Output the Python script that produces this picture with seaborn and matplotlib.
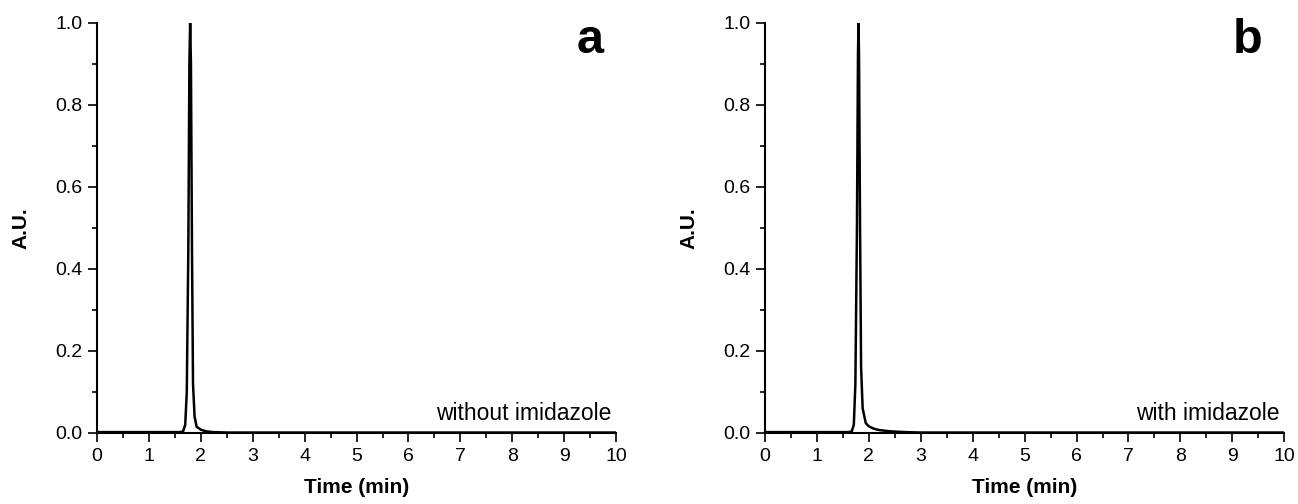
import numpy as np
import pandas as pd
import seaborn as sns
import matplotlib.pyplot as plt
from matplotlib.ticker import MultipleLocator

# chromatogram traces
time_a = [0, 1.0, 1.60, 1.66, 1.70, 1.73, 1.76, 1.78, 1.795, 1.81, 1.83, 1.85, 1.88,
          1.92, 2.0, 2.1, 2.23, 2.5, 3.0, 10]
signal_a = [0.002, 0.002, 0.002, 0.004, 0.02, 0.10, 0.45, 0.90, 1.0, 0.90, 0.45, 0.12, 0.04,
            0.015, 0.008, 0.004, 0.002, 0.001, 0.001, 0.001]

time_b = [0, 1.0, 1.60, 1.67, 1.71, 1.74, 1.77, 1.79, 1.80, 1.81, 1.83, 1.85, 1.88,
          1.94, 2.0, 2.1, 2.2, 2.4, 2.7, 3.0, 10]
signal_b = [0.002, 0.002, 0.002, 0.004, 0.02, 0.12, 0.50, 0.92, 1.0, 0.92, 0.50, 0.16, 0.06,
            0.024, 0.016, 0.010, 0.007, 0.004, 0.002, 0.001, 0.001]

panels = ['a', 'b']
panel_x = [0.95, 0.929]
notes = ['without imidazole', 'with imidazole']

sns.set_style('ticks')
plt.rcParams['font.family'] = ['Liberation Sans', 'DejaVu Sans']
plt.rcParams['text.color'] = 'black'
plt.rcParams['axes.labelcolor'] = 'black'

fig = plt.figure(figsize=(12.98, 5.04), dpi=100)
ax_a = fig.add_axes([0.0747, 0.141, 0.4, 0.814])
ax_b = fig.add_axes([0.5894, 0.141, 0.4, 0.814])

for ax, t, s, lab, px, note in zip([ax_a, ax_b], [time_a, time_b], [signal_a, signal_b],
                                   panels, panel_x, notes):
    df = pd.DataFrame({'t': t, 's': s})
    sns.lineplot(data=df, x='t', y='s', ax=ax, color='black', linewidth=1.8)
    ax.set_xlim(0, 10)
    ax.set_ylim(0, 1.0)
    ax.xaxis.set_major_locator(MultipleLocator(1))
    ax.xaxis.set_minor_locator(MultipleLocator(0.5))
    ax.yaxis.set_major_locator(MultipleLocator(0.2))
    ax.yaxis.set_minor_locator(MultipleLocator(0.1))
    ax.xaxis.set_major_formatter(plt.FuncFormatter(lambda v, p: '%d' % v))
    ax.yaxis.set_major_formatter(plt.FuncFormatter(lambda v, p: '%.1f' % v))
    ax.tick_params(which='major', length=6.5, width=1.2, labelsize=14, colors='black', pad=4)
    ax.tick_params(which='minor', length=3.6, width=1.2, colors='black')
    for sp in ['left', 'bottom']:
        ax.spines[sp].set_linewidth(1.5)
        ax.spines[sp].set_color('black')
    sns.despine(ax=ax)
    ax.set_xlabel('Time (min)', fontsize=15, fontweight='bold', labelpad=10)
    ax.set_ylabel('A.U.', fontsize=15, fontweight='bold', labelpad=18)
    ax.text(px, 0.927, lab, transform=ax.transAxes, fontsize=35, fontweight='bold',
            ha='center', va='baseline')
    ax.text(0.99, 0.032, note, transform=ax.transAxes, fontsize=16.5,
            ha='right', va='baseline')

fig.savefig('out.png', dpi=100)
